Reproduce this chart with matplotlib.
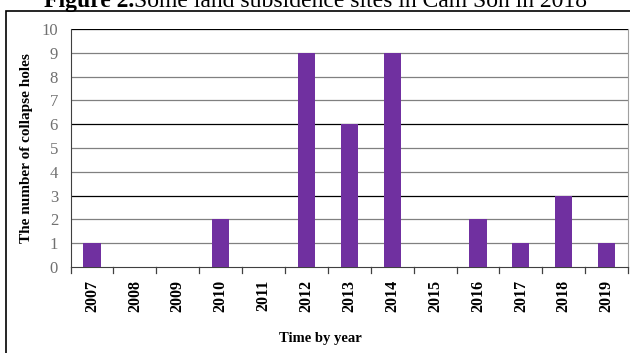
import numpy as np
import matplotlib.pyplot as plt
from matplotlib.patches import Rectangle

years = ['2007', '2008', '2009', '2010', '2011', '2012', '2013',
         '2014', '2015', '2016', '2017', '2018', '2019']
holes = [1, 0, 0, 2, 0, 9, 6, 9, 0, 2, 1, 3, 1]

plt.rcParams['font.family'] = ['Liberation Serif', 'DejaVu Serif']

fig = plt.figure(figsize=(6.3, 3.53), dpi=100)
ax = fig.add_axes([0.112, 0.2436, 0.885, 0.674])

x = np.arange(len(years))
ax.bar(x, holes, width=0.4, color='#7030A0', zorder=3)

# gridlines, darker every third
for v in range(1, 11):
    c = '#000000' if v in (3, 6, 10) else '#808080'
    ax.axhline(v, color=c, linewidth=0.9, zorder=1)

ax.set_xlim(-0.5, len(years) - 0.5)
ax.set_ylim(0, 10)
ax.set_yticks(range(0, 11))
ax.set_yticklabels([str(v) for v in range(0, 11)], color='#707070', fontsize=12)
ax.tick_params(axis='y', length=0, pad=9)

ax.set_xticks(x)
ax.set_xticklabels(years, rotation=90, fontweight='bold', fontsize=11.5)
ax.tick_params(axis='x', length=0, pad=9)
for b in np.arange(-0.5, len(years), 1.0):
    ax.plot([b, b], [0, -0.25], color='#404040', linewidth=0.9,
            clip_on=False, transform=ax.transData)

ax.spines['top'].set_visible(False)
ax.spines['right'].set_color('#a0a0a0')
ax.spines['bottom'].set_color('#404040')
ax.spines['left'].set_color('#404040')

ax.set_ylabel('The number of collapse holes', fontweight='bold', fontsize=11, labelpad=6)
fig.text(0.508, 0.03, 'Time by year', fontweight='bold', fontsize=10.5, ha='center')

# outer frame
fig.add_artist(Rectangle((0.009, -0.01), 0.995, 0.979, transform=fig.transFigure,
                         fill=False, edgecolor='#000000', linewidth=1.2))

# title (mostly cut off at top)
fig.text(0.213, 0.979, 'Figure 2.', fontweight='bold', fontsize=17, ha='right', va='baseline')
fig.text(0.213, 0.979, 'Some land subsidence sites in Cam Son in 2018', fontsize=17,
         ha='left', va='baseline')

fig.savefig('out.png', dpi=100)
